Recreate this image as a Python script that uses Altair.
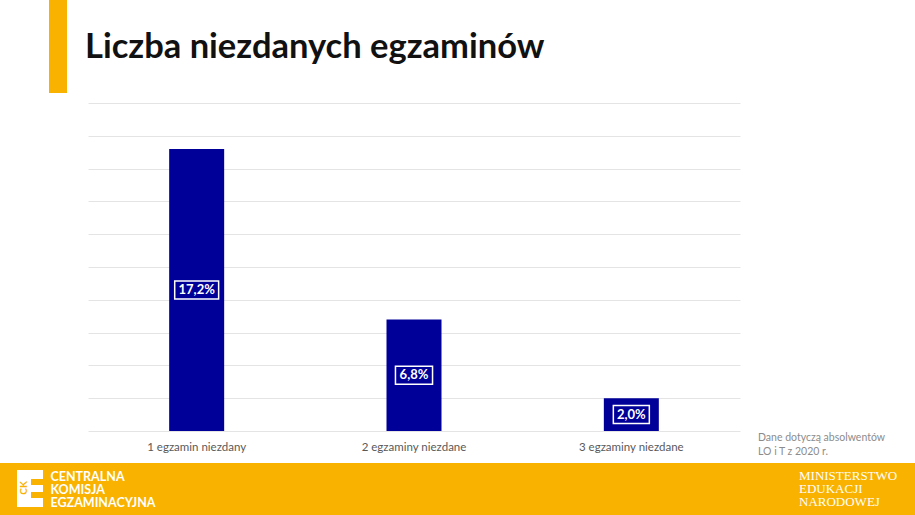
import altair as alt
import pandas as pd

categories = ["1 egzamin niezdany", "2 egzaminy niezdane", "3 egzaminy niezdane"]
values = [17.2, 6.8, 2.0]
labels = ["17,2%", "6,8%", "2,0%"]

title_text = "Liczba niezdanych egzaminów"
note_lines = ["Dane dotyczą absolwentów", "LO i T z 2020 r."]
cke_lines = ["CENTRALNA", "KOMISJA", "EGZAMINACYJNA"]
men_lines = ["MINISTERSTWO", "EDUKACJI", "NARODOWEJ"]

ORANGE = "#F9B200"
BLUE = "#000099"

df = pd.DataFrame({"cat": categories, "val": values, "lab": labels})

W, H = 652, 328
PL, PT = 88, 103

xaxis = alt.Axis(title=None, labelAngle=0, ticks=False, domain=False,
                 labelColor="#595959", labelFont="Lato", labelFontSize=11.5,
                 labelPadding=10, grid=False)
xscale = alt.Scale(paddingInner=0, paddingOuter=0)
yaxis = alt.Axis(title=None, labels=False, ticks=False, domain=False,
                 values=list(range(0, 21, 2)), gridColor="#e4e4e4", gridWidth=1)
yscale = alt.Scale(domain=[0, 20], nice=False)

base = alt.Chart(df)
bars = base.mark_bar(size=55, color=BLUE).encode(
    x=alt.X("cat:N", sort=categories, scale=xscale, axis=xaxis),
    y=alt.Y("val:Q", scale=yscale, axis=yaxis))

mid = base.transform_calculate(mid="datum.val / 2")
x_m = alt.X("cat:N", sort=categories, scale=xscale, axis=xaxis)
y_m = alt.Y("mid:Q", scale=yscale, axis=yaxis)
txt = mid.mark_text(color="white", font="Lato", fontWeight="bold", fontSize=13,
                    baseline="middle", align="center").encode(
    x=x_m, y=y_m, text="lab:N")

paths = [
    "M-2.44,-1L2.44,-1L2.44,1L-2.44,1Z",
    "M-2.06,-1L2.06,-1L2.06,1L-2.06,1Z",
    "M-2.0,-1L2.0,-1L2.0,1L-2.0,1Z",
]
boxes = mid.mark_point(filled=False, color="white", strokeWidth=1.5, opacity=1, size=324).encode(
    x=x_m, y=y_m,
    shape=alt.Shape("cat:N", scale=alt.Scale(domain=categories, range=paths), legend=None))

one = alt.Chart(alt.Data(values=[{"a": 1}]))

def px(v):
    return alt.value(v - PL)

def py(v):
    return alt.value(v - PT)

left_bar = one.mark_rect(color=ORANGE).encode(x=px(49), x2=px(67), y=py(0), y2=py(93))
footer = one.mark_rect(color=ORANGE).encode(x=px(0), x2=px(915), y=py(463), y2=py(515))

title = one.mark_text(text=title_text, font="Lato", fontWeight="bold", fontSize=34.5,
                      color="#111111", align="left", baseline="alphabetic").encode(
    x=px(85), y=py(58))

note = one.mark_text(text=note_lines, font="Lato", fontSize=10.5, color="#8c8c8c",
                     align="left", baseline="alphabetic", lineHeight=14).encode(
    x=px(758), y=py(441))

logo_parts = [
    one.mark_rect(color="white").encode(x=px(17), x2=px(43), y=py(470), y2=py(507)),
    one.mark_rect(color=ORANGE).encode(x=px(31), x2=px(43), y=py(479), y2=py(485)),
    one.mark_rect(color=ORANGE).encode(x=px(31), x2=px(43), y=py(492), y2=py(498)),
    one.mark_text(text="CK", font="Lato", fontWeight="bold", fontSize=10, color=ORANGE,
                  angle=270, align="center", baseline="middle").encode(x=px(24), y=py(488)),
]

cke = one.mark_text(text=cke_lines, font="Lato", fontWeight="bold", fontSize=12.5, color="white",
                    align="left", baseline="alphabetic", lineHeight=13.2).encode(
    x=px(50.5), y=py(481))
men = one.mark_text(text=men_lines, font="Liberation Serif", fontSize=13, color="white",
                    align="left", baseline="alphabetic", lineHeight=13.2).encode(
    x=px(799), y=py(480))

chart = alt.layer(bars, boxes, txt, left_bar, footer, title, note, *logo_parts, cke, men).properties(
    width=W, height=H,
    autosize=alt.AutoSizeParams(type="none"),
    padding={"left": PL, "top": PT, "right": 915 - PL - W, "bottom": 515 - PT - H},
    background="white",
).configure_view(stroke=None)

chart.save("out.html", embed_options={"renderer": "svg", "actions": False})
